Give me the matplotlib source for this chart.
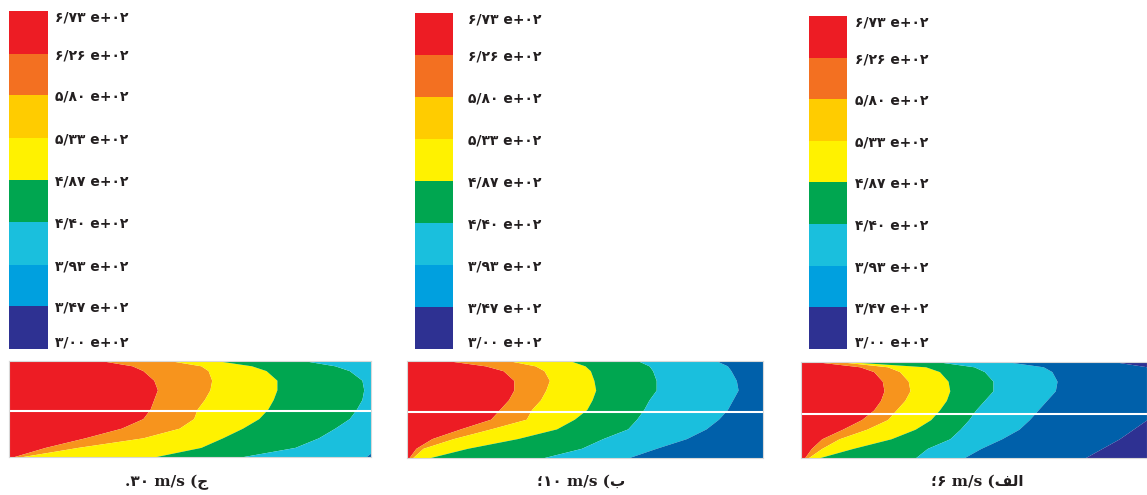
import numpy as np
import matplotlib
matplotlib.use('Agg')
import matplotlib.pyplot as plt

plt.rcParams['font.family'] = ['DejaVu Sans']

# colour scale (K)
levels = [300, 347, 393, 440, 487, 533, 580, 626, 673]
legend_colors = ['#2E3192', '#00A0DF', '#1ABFDD', '#00A650',
                 '#FFF200', '#FFCC00', '#F37021', '#ED1C24']

# contour bands, left (hot) to right (cold)
band_colors = ['#ED1C24', '#F7941D', '#FFF200', '#00A650',
               '#1ABFDD', '#0060AA', '#2E3192']

# height across the channel (0 = bottom wall, 1 = top wall)
y_levels = [0.0, 0.1, 0.2, 0.3, 0.4, 0.5, 0.6, 0.7, 0.8, 0.9, 0.95, 1.0]

# band edges (fraction of channel length)
# panel 30 m/s
p30_red_orange = [0.01, 0.10, 0.21, 0.31, 0.37, 0.39, 0.40, 0.41, 0.40, 0.37, 0.34, 0.26]
p30_orange_yellow = [0.03, 0.19, 0.37, 0.47, 0.51, 0.52, 0.54, 0.555, 0.56, 0.55, 0.53, 0.45]
p30_yellow_green = [0.40, 0.53, 0.59, 0.645, 0.69, 0.715, 0.73, 0.74, 0.74, 0.71, 0.67, 0.58]
p30_green_cyan = [0.64, 0.79, 0.855, 0.90, 0.94, 0.96, 0.975, 0.98, 0.975, 0.94, 0.90, 0.82]
p30_cyan_blue = [0.985, 1.02, 1.05, 1.1, 1.1, 1.1, 1.1, 1.1, 1.1, 1.1, 1.1, 1.1]
p30_blue_navy = [1.1, 1.1, 1.1, 1.1, 1.1, 1.1, 1.1, 1.1, 1.1, 1.1, 1.1, 1.1]

# panel 10 m/s
p10_red_orange = [0.005, 0.025, 0.07, 0.15, 0.235, 0.26, 0.285, 0.30, 0.30, 0.27, 0.22, 0.12]
p10_orange_yellow = [0.015, 0.045, 0.13, 0.235, 0.335, 0.35, 0.375, 0.39, 0.40, 0.385, 0.36, 0.29]
p10_yellow_green = [0.06, 0.17, 0.31, 0.42, 0.47, 0.505, 0.52, 0.53, 0.525, 0.515, 0.50, 0.46]
p10_green_cyan = [0.38, 0.49, 0.55, 0.62, 0.645, 0.665, 0.68, 0.70, 0.70, 0.69, 0.68, 0.65]
p10_cyan_blue = [0.62, 0.70, 0.785, 0.84, 0.875, 0.90, 0.915, 0.93, 0.925, 0.91, 0.90, 0.87]
p10_blue_navy = [1.1, 1.1, 1.1, 1.1, 1.1, 1.1, 1.1, 1.1, 1.1, 1.1, 1.1, 1.1]

# panel 6 m/s
p6_red_orange = [0.01, 0.03, 0.06, 0.12, 0.175, 0.21, 0.23, 0.24, 0.235, 0.21, 0.17, 0.05]
p6_orange_yellow = [0.02, 0.06, 0.11, 0.19, 0.25, 0.275, 0.30, 0.315, 0.31, 0.285, 0.25, 0.12]
p6_yellow_green = [0.05, 0.15, 0.26, 0.33, 0.375, 0.40, 0.42, 0.43, 0.425, 0.40, 0.36, 0.15]
p6_green_cyan = [0.33, 0.365, 0.43, 0.46, 0.485, 0.505, 0.53, 0.555, 0.555, 0.53, 0.50, 0.40]
p6_cyan_blue = [0.47, 0.52, 0.58, 0.63, 0.66, 0.685, 0.71, 0.735, 0.74, 0.725, 0.70, 0.60]
p6_blue_navy = [0.82, 0.87, 0.92, 0.96, 1.0, 1.1, 1.1, 1.1, 1.1, 1.05, 1.0, 0.91]

# position of the white centre line (fraction of height)
divider_y = [0.48, 0.47, 0.46]

# captions (Persian letters given in visual order, presentation forms)
speeds = ['۳۰', '۱۰', '۶']
caption_letters = ['\uFE9D', '\uFE8F', '\uFED2\uFEDF\uFE8D']
caption_ends = ['.', '\u061B', '\u061B']

W, H = 1147, 495


def box(l, t, r, b):
    return [l / W, 1 - b / H, (r - l) / W, (b - t) / H]


def to_fa(s):
    return s.translate(str.maketrans('0123456789', '۰۱۲۳۴۵۶۷۸۹'))


def level_label(v):
    mant, exp = f'{v / 100:.2f}', '02'
    return f"{to_fa(mant).replace('.', '/')} e+{to_fa(exp)}"


fig = plt.figure(figsize=(W / 100, H / 100), dpi=100)

field_boxes = [(9, 361, 371, 457), (407, 361, 763, 458), (801, 362, 1147, 458)]
bar_boxes = [(9, 11, 48, 349), (415, 13, 453, 349), (809, 16, 847, 349)]
label_pads = [5, 11, 6]
caption_x = [167, 581, 977]

panels = [
    [p30_red_orange, p30_orange_yellow, p30_yellow_green, p30_green_cyan, p30_cyan_blue, p30_blue_navy],
    [p10_red_orange, p10_orange_yellow, p10_yellow_green, p10_green_cyan, p10_cyan_blue, p10_blue_navy],
    [p6_red_orange, p6_orange_yellow, p6_yellow_green, p6_green_cyan, p6_cyan_blue, p6_blue_navy],
]

for i, edges in enumerate(panels):
    # colour legend
    cax = fig.add_axes(box(*bar_boxes[i]))
    heights = np.diff(levels)
    cax.bar(0, heights, bottom=levels[:-1], width=1, align='edge',
            color=legend_colors, linewidth=0)
    cax.set_xlim(0, 1)
    cax.set_ylim(levels[0], levels[-1])
    cax.set_xticks([])
    cax.yaxis.tick_right()
    cax.set_yticks(levels)
    cax.set_yticklabels([level_label(v) for v in levels], fontsize=10,
                        fontweight='bold', color='#231f20')
    cax.tick_params(axis='y', length=0, pad=label_pads[i])
    tl = cax.get_yticklabels()
    tl[0].set_verticalalignment('bottom')
    tl[-1].set_verticalalignment('top')
    for s in cax.spines.values():
        s.set_visible(False)

    # temperature field
    ax = fig.add_axes(box(*field_boxes[i]))
    ys = np.array(y_levels)
    bounds = [np.zeros_like(ys)] + [np.array(e) for e in edges] + [np.full_like(ys, 1.2)]
    for k, c in enumerate(band_colors):
        ax.fill_betweenx(ys, bounds[k], bounds[k + 1], color=c, linewidth=0)
    ax.axhline(divider_y[i], color='white', lw=1.5)
    ax.set_xlim(0, 1)
    ax.set_ylim(0, 1)
    ax.set_xticks([])
    ax.set_yticks([])
    for s in ax.spines.values():
        s.set_color('#d8d8d8')
        s.set_linewidth(0.8)

    cap = f'{caption_ends[i]}{speeds[i]} m/s ({caption_letters[i]}'
    fig.text(caption_x[i] / W, 1 - 482 / H, cap, ha='center', va='center',
             fontsize=11, fontweight='bold', color='#231f20',
             family=['DejaVu Serif', 'DejaVu Sans'])

fig.savefig('out.png', dpi=100)
